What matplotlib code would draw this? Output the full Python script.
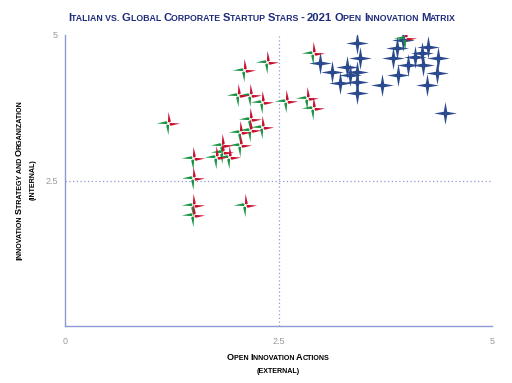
import matplotlib
matplotlib.use("Agg")
import matplotlib.pyplot as plt
from matplotlib.path import Path
import numpy as np

plt.rcParams['font.family'] = ['Liberation Sans', 'DejaVu Sans']

# ---------------- data ----------------
global_x = [3.42, 2.99, 3.45, 3.13, 3.30, 3.22, 3.34, 3.42, 3.42, 3.42, 3.71, 3.89,
            3.84, 3.90, 4.02, 4.10, 4.18, 4.19, 4.25, 4.37, 4.36, 4.24, 4.45, 3.96]
global_y = [4.86, 4.52, 4.60, 4.36, 4.45, 4.18, 4.31, 4.36, 4.19, 4.00, 4.14, 4.78,
            4.60, 4.31, 4.48, 4.62, 4.69, 4.48, 4.79, 4.60, 4.35, 4.14, 3.66, 4.91]

italy_x = [1.21, 1.50, 1.50, 1.50, 1.50, 2.11, 1.77, 1.84, 1.92, 1.84, 2.05, 2.05,
           2.17, 2.17, 2.31, 2.03, 2.17, 2.31, 2.10, 2.37, 2.59, 2.83, 2.90, 2.90, 3.98]
italy_y = [3.49, 2.89, 2.54, 2.08, 1.91, 2.08, 2.90, 2.99, 2.90, 3.11, 3.11, 3.33,
           3.37, 3.56, 3.42, 3.97, 3.97, 3.85, 4.40, 4.54, 3.87, 3.92, 3.75, 4.69, 4.95]

x_ticks = [0, 2.5, 5]
y_ticks = [2.5, 5]
title = "Italian vs. Global Corporate Startup Stars - 2021 Open Innovation Matrix"
ylabel_lines = ["Innovation Strategy and Organization", "(internal)"]
xlabel_lines = ["Open Innovation Actions", "(external)"]

# ---------------- markers ----------------
def star_path():
    t = 0.15
    verts = [(0, 1), (t, t), (1, 0), (t, -t), (0, -1), (-t, -t), (-1, 0), (-t, t), (0, 1)]
    codes = [Path.MOVETO] + [Path.LINETO] * 7 + [Path.CLOSEPOLY]
    return Path(verts, codes)

def arm(angle):
    # one pinwheel blade pointing along angle
    base = [(-0.05, 0.14), (0, 1.0), (0.2, 0.18), (0.07, 0.08)]
    c, s = np.cos(angle), np.sin(angle)
    return [(x * c - y * s, x * s + y * c) for x, y in base]

def blades(angles):
    verts, codes = [], []
    for a in angles:
        v = arm(a)
        verts += v + [v[0]]
        codes += [Path.MOVETO] + [Path.LINETO] * (len(v) - 1) + [Path.CLOSEPOLY]
    # invisible anchors so both halves normalise identically
    for p in [(1, 1), (-1, -1)]:
        verts += [p, p]
        codes += [Path.MOVETO, Path.LINETO]
    return Path(verts, codes)

red_path = blades([0, -np.pi / 2])          # top and right arms
green_path = blades([np.pi / 2, np.pi])     # left and bottom arms

# ---------------- figure ----------------
W, H = 512, 383
fig = plt.figure(figsize=(W / 100, H / 100), dpi=100)
ax = fig.add_axes([65 / W, 1 - 326 / H, (492 - 65) / W, (326 - 35) / H])
ax.set_xlim(0, 5)
ax.set_ylim(0, 5)

line_col = '#8e9ad4'
ax.axvline(2.5, color=line_col, lw=0.9, ls=(0, (1, 2)), zorder=1)
ax.axhline(2.5, color=line_col, lw=0.9, ls=(0, (1, 2)), zorder=1)

ax.scatter(global_x, global_y, marker=star_path(), s=270, color='#2b4a8e',
           linewidths=0, zorder=3)
ax.scatter(italy_x, italy_y, marker=green_path, s=280, color='#1a9442',
           linewidths=0, zorder=4)
ax.scatter(italy_x, italy_y, marker=red_path, s=280, color='#c8102e',
           linewidths=0, zorder=4)

for sp in ['top', 'right']:
    ax.spines[sp].set_visible(False)
for sp in ['left', 'bottom']:
    ax.spines[sp].set_color(line_col)
    ax.spines[sp].set_linewidth(1.0)

ax.set_xticks(x_ticks)
ax.set_xticklabels(['0', '2.5', '5'])
ax.set_yticks(y_ticks)
ax.set_yticklabels(['2.5', '5'])
ax.tick_params(axis='x', length=0, labelsize=6.5, labelcolor='#9a9a9a', pad=8)
ax.tick_params(axis='y', length=0, labelsize=6.5, labelcolor='#9a9a9a', pad=5)

# ---------------- small caps text helper ----------------
renderer = fig.canvas.get_renderer()

def runs(s, size, small=0.78):
    out = []
    for ch in s:
        if ch.isupper() or ch.isdigit() or ch == '-':
            sz, c = size, ch
        else:
            sz, c = size * small, ch.upper()
        if out and out[-1][1] == sz:
            out[-1][0] += c
        else:
            out.append([c, sz])
    return out

def smallcaps(cx, cy, s, size, color='black', rotation=0, weight='bold'):
    # cx, cy: pixel coordinates (from top-left) of the centre of the baseline
    parts = runs(s, size)
    widths = []
    for txt, sz in parts:
        t = fig.text(0, 0, txt, fontsize=sz, fontweight=weight)
        widths.append(t.get_window_extent(renderer).width)
        t.remove()
    total = sum(widths)
    pos = -total / 2
    for (txt, sz), w in zip(parts, widths):
        if rotation == 0:
            px, py = cx + pos, cy
        else:
            px, py = cx, cy - pos
        fig.text(px / W, 1 - py / H, txt, fontsize=sz, fontweight=weight, color=color,
                 ha='left', va='baseline', rotation=rotation, rotation_mode='anchor')
        pos += w

smallcaps(262, 21, title, 8.1, color='#1f2c7c')
smallcaps(278, 360, xlabel_lines[0], 6.6)
smallcaps(278, 373, xlabel_lines[1], 6.6)
smallcaps(22, 180, ylabel_lines[0], 6.6, rotation=90)
smallcaps(35, 180, ylabel_lines[1], 6.6, rotation=90)

fig.savefig('out.png', dpi=100)
